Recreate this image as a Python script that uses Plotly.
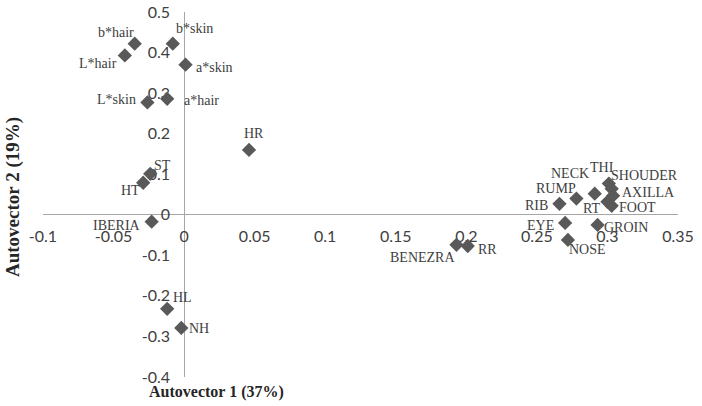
import plotly.graph_objects as go

# PCA loadings
labels = ["b*hair", "L*hair", "b*skin", "a*skin", "L*skin", "a*hair",
          "HR", "ST", "HT", "IBERIA", "BENEZRA", "RR", "HL", "NH",
          "RIB", "RUMP", "NECK", "THI", "SHOUDER", "AXILLA", "RT", "FOOT",
          "EYE", "GROIN", "NOSE"]
autovector1 = [-0.035, -0.042, -0.008, 0.001, -0.026, -0.012,
               0.046, -0.024, -0.029, -0.023, 0.193, 0.201, -0.012, -0.002,
               0.266, 0.278, 0.291, 0.301, 0.303, 0.304, 0.300, 0.303,
               0.270, 0.293, 0.272]
autovector2 = [0.422, 0.393, 0.422, 0.370, 0.277, 0.286,
               0.160, 0.101, 0.079, -0.017, -0.074, -0.077, -0.232, -0.279,
               0.027, 0.040, 0.052, 0.077, 0.064, 0.047, 0.032, 0.022,
               -0.020, -0.025, -0.062]

x_ticks = [-0.1, -0.05, 0, 0.05, 0.1, 0.15, 0.2, 0.25, 0.3, 0.35]
y_ticks = [-0.4, -0.3, -0.2, -0.1, 0, 0.1, 0.2, 0.3, 0.4, 0.5]

# label offsets from the marker, in pixels (dx right, dy down)
label_offsets = {
    "b*hair": (-19, -11), "L*hair": (-27, 8), "b*skin": (22, -15),
    "a*skin": (29, 3), "L*skin": (-31, -3), "a*hair": (34, 2),
    "HR": (5, -16), "ST": (12, -8), "HT": (-13, 8), "IBERIA": (-35, 4),
    "BENEZRA": (-34, 13), "RR": (20, 3), "HL": (15, -11), "NH": (18, 1),
    "RIB": (-23, 2), "RUMP": (-20, -10), "NECK": (-25, -20), "THI": (-7, -16),
    "SHOUDER": (33, -13), "AXILLA": (35, -3), "RT": (-16, 7), "FOOT": (26, 2),
    "EYE": (-25, 3), "GROIN": (28, 3), "NOSE": (20, 10),
}

xr = [-0.1, 0.35]
yr = [-0.4, 0.5]
L, R, T, B = 43, 24, 12, 29
W, H = 702, 406
pw, ph = W - L - R, H - T - B

fig = go.Figure()
fig.add_trace(go.Scatter(
    x=autovector1, y=autovector2, mode="markers",
    marker=dict(symbol="diamond", size=11, color="#595959"),
    hoverinfo="text", text=labels, showlegend=False,
))

for name, xv, yv in zip(labels, autovector1, autovector2):
    dx, dy = label_offsets[name]
    fig.add_annotation(x=xv, y=yv, text=name, showarrow=False,
                       xshift=dx, yshift=-dy, xanchor="center", yanchor="middle",
                       font=dict(family="Liberation Serif", size=14, color="#404040"))

tick_font = dict(family="Lato", size=16, color="#404040")
fig.update_layout(
    width=W, height=H,
    margin=dict(l=L, r=R, t=T, b=B),
    plot_bgcolor="white", paper_bgcolor="white",
    xaxis=dict(range=xr, tickvals=x_ticks, ticktext=[f"{v:g}" for v in x_ticks],
               showgrid=False, zeroline=True, zerolinecolor="#a6a6a6", zerolinewidth=1,
               showline=False, ticks="", anchor="free", automargin=False,
               position=(0 - yr[0]) / (yr[1] - yr[0]),
               ticklabelstandoff=10, tickfont=tick_font, layer="below traces"),
    yaxis=dict(range=yr, tickvals=y_ticks, ticktext=[f"{v:g}" for v in y_ticks],
               showgrid=False, zeroline=True, zerolinecolor="#a6a6a6", zerolinewidth=1,
               showline=False, ticks="", anchor="free", automargin=False,
               position=(0 - xr[0]) / (xr[1] - xr[0]),
               ticklabelstandoff=14, tickfont=tick_font, layer="below traces"),
)

# axis titles
fig.add_annotation(x=(216 - L) / pw, y=-(392 - (H - B)) / ph, xref="paper", yref="paper",
                   text="<b>Autovector 1 (37%)</b>", showarrow=False,
                   xanchor="center", yanchor="middle",
                   font=dict(family="Liberation Serif", size=16, color="#262626"))
fig.add_annotation(x=(13 - L) / pw, y=((H - B) - 197) / ph, xref="paper", yref="paper",
                   text="<b>Autovector 2 (19%)</b>", textangle=-90, showarrow=False,
                   xanchor="center", yanchor="middle",
                   font=dict(family="Liberation Serif", size=19, color="#262626"))

fig.write_html("out.html", config={"displayModeBar": False},
               post_script="document.body.style.margin='0';")
